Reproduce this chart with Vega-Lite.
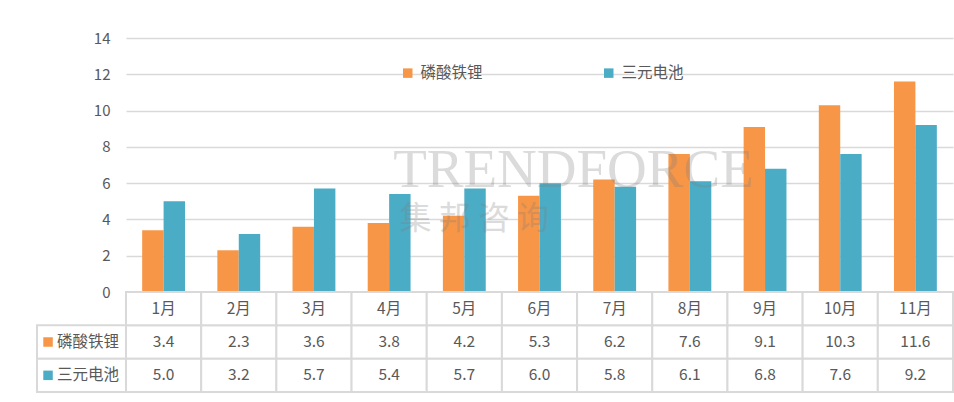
{
  "$schema": "https://vega.github.io/schema/vega-lite/v6.json",
  "padding": {"left": 36, "top": 31, "right": 0, "bottom": 8},
  "autosize": {"type": "pad"},
  "bounds": "flush",
  "spacing": 0,
  "columns": 2,
  "config": {
    "view": {"stroke": null},
    "font": "Noto Sans CJK SC",
    "text": {"font": "Noto Sans CJK SC", "fontSize": 15.5, "color": "#595959"}
  },
  "datasets": {
    "sales": [
      {"month": "1月", "series": "磷酸铁锂", "value": 3.4},
      {"month": "2月", "series": "磷酸铁锂", "value": 2.3},
      {"month": "3月", "series": "磷酸铁锂", "value": 3.6},
      {"month": "4月", "series": "磷酸铁锂", "value": 3.8},
      {"month": "5月", "series": "磷酸铁锂", "value": 4.2},
      {"month": "6月", "series": "磷酸铁锂", "value": 5.3},
      {"month": "7月", "series": "磷酸铁锂", "value": 6.2},
      {"month": "8月", "series": "磷酸铁锂", "value": 7.6},
      {"month": "9月", "series": "磷酸铁锂", "value": 9.1},
      {"month": "10月", "series": "磷酸铁锂", "value": 10.3},
      {"month": "11月", "series": "磷酸铁锂", "value": 11.6},
      {"month": "1月", "series": "三元电池", "value": 5.0},
      {"month": "2月", "series": "三元电池", "value": 3.2},
      {"month": "3月", "series": "三元电池", "value": 5.7},
      {"month": "4月", "series": "三元电池", "value": 5.4},
      {"month": "5月", "series": "三元电池", "value": 5.7},
      {"month": "6月", "series": "三元电池", "value": 6.0},
      {"month": "7月", "series": "三元电池", "value": 5.8},
      {"month": "8月", "series": "三元电池", "value": 6.1},
      {"month": "9月", "series": "三元电池", "value": 6.8},
      {"month": "10月", "series": "三元电池", "value": 7.6},
      {"month": "11月", "series": "三元电池", "value": 9.2}
    ]
  },
  "concat": [
    {
      "width": 89,
      "height": 254,
      "data": {"values": []},
      "mark": "rect",
      "encoding": {}
    },
    {
      "width": 827,
      "height": 254,
      "data": {"name": "sales"},
      "layer": [
        {
          "mark": {"type": "bar"},
          "encoding": {
            "x": {
              "field": "month",
              "type": "nominal",
              "sort": null,
              "scale": {"paddingInner": 0.43, "paddingOuter": 0.215},
              "axis": null
            },
            "xOffset": {
              "field": "series",
              "type": "nominal",
              "sort": ["磷酸铁锂", "三元电池"],
              "scale": {"paddingInner": 0, "paddingOuter": 0}
            },
            "y": {
              "field": "value",
              "type": "quantitative",
              "scale": {"domain": [0, 14]},
              "axis": {
                "title": null,
                "values": [0, 2, 4, 6, 8, 10, 12, 14],
                "domain": false,
                "ticks": false,
                "labelPadding": 16,
                "labelFontSize": 15,
                "labelFont": "Noto Sans CJK SC",
                "labelColor": "#595959",
                "gridColor": "#d9d9d9",
                "gridWidth": 1.3
              }
            },
            "color": {
              "field": "series",
              "type": "nominal",
              "scale": {"domain": ["磷酸铁锂", "三元电池"], "range": ["#F79646", "#4BACC6"]},
              "legend": {
                "title": null,
                "orient": "none",
                "direction": "horizontal",
                "legendX": 363,
                "legendY": 27,
                "padding": 0,
                "symbolType": "square",
                "symbolSize": 90,
                "symbolStrokeWidth": 0,
                "labelFontSize": 15.5,
                "labelFont": "Noto Sans CJK SC",
                "labelColor": "#595959",
                "labelOffset": 5,
                "columnPadding": 118
              }
            }
          }
        },
        {
          "data": {"values": [{"mark": "TRENDFORCE"}]},
          "mark": {"type": "text", "font": "Liberation Serif", "fontSize": 55, "color": "#808080", "opacity": 0.28, "baseline": "middle", "dx": 34},
          "encoding": {
            "x": {"datum": "6月", "type": "nominal"},
            "y": {
              "datum": 6.7,
              "type": "quantitative",
              "axis": {
                "title": null,
                "values": [0, 2, 4, 6, 8, 10, 12, 14],
                "domain": false,
                "ticks": false,
                "labelPadding": 16,
                "labelFontSize": 15,
                "labelFont": "Noto Sans CJK SC",
                "labelColor": "#595959",
                "gridColor": "#d9d9d9",
                "gridWidth": 1.3
              }
            },
            "text": {"field": "mark"}
          }
        },
        {
          "data": {"values": [{"mark": "集 邦 咨 询"}]},
          "mark": {"type": "text", "fontSize": 32, "color": "#808080", "opacity": 0.28, "baseline": "middle", "dx": 10},
          "encoding": {
            "x": {"datum": "5月", "type": "nominal"},
            "y": {
              "datum": 4.0,
              "type": "quantitative",
              "axis": {
                "title": null,
                "values": [0, 2, 4, 6, 8, 10, 12, 14],
                "domain": false,
                "ticks": false,
                "labelPadding": 16,
                "labelFontSize": 15,
                "labelFont": "Noto Sans CJK SC",
                "labelColor": "#595959",
                "gridColor": "#d9d9d9",
                "gridWidth": 1.3
              }
            },
            "text": {"field": "mark"}
          }
        }
      ]
    },
    {
      "width": 89,
      "height": 100,
      "data": {"values": [{"series": "磷酸铁锂"}, {"series": "三元电池"}]},
      "encoding": {
        "y": {
          "field": "series",
          "type": "nominal",
          "scale": {"domain": ["月份", "磷酸铁锂", "三元电池"], "paddingInner": 0, "paddingOuter": 0},
          "axis": null
        }
      },
      "layer": [
        {"mark": {"type": "rect", "fill": "white", "stroke": "#d9d9d9", "strokeWidth": 2}},
        {
          "mark": {"type": "point", "shape": "square", "filled": true, "size": 90, "opacity": 1},
          "encoding": {
            "x": {"datum": 0.124, "type": "quantitative", "scale": {"domain": [0, 1]}, "axis": null},
            "color": {"field": "series", "type": "nominal", "legend": null}
          }
        },
        {
          "mark": {"type": "text", "align": "left", "baseline": "middle"},
          "encoding": {
            "x": {"datum": 0.225, "type": "quantitative"},
            "text": {"field": "series"}
          }
        }
      ]
    },
    {
      "width": 827,
      "height": 100,
      "data": {"name": "sales"},
      "encoding": {
        "x": {
          "field": "month",
          "type": "nominal",
          "sort": null,
          "scale": {"paddingInner": 0, "paddingOuter": 0},
          "axis": null
        }
      },
      "layer": [
        {
          "mark": {"type": "rect", "fill": "white", "stroke": "#d9d9d9", "strokeWidth": 2},
          "encoding": {
            "y": {
              "field": "series",
              "type": "nominal",
              "scale": {"domain": ["月份", "磷酸铁锂", "三元电池"], "paddingInner": 0, "paddingOuter": 0},
              "axis": null
            }
          }
        },
        {
          "mark": {"type": "text", "baseline": "middle"},
          "encoding": {
            "y": {"field": "series", "type": "nominal"},
            "text": {"field": "value", "type": "quantitative", "format": ".1f"}
          }
        },
        {
          "transform": [{"filter": "datum.series === '磷酸铁锂'"}],
          "mark": {"type": "rect", "fill": "white", "stroke": "#d9d9d9", "strokeWidth": 2},
          "encoding": {"y": {"datum": "月份", "type": "nominal"}}
        },
        {
          "transform": [{"filter": "datum.series === '磷酸铁锂'"}],
          "mark": {"type": "text", "baseline": "middle"},
          "encoding": {
            "y": {"datum": "月份", "type": "nominal"},
            "text": {"field": "month"}
          }
        }
      ]
    }
  ]
}
